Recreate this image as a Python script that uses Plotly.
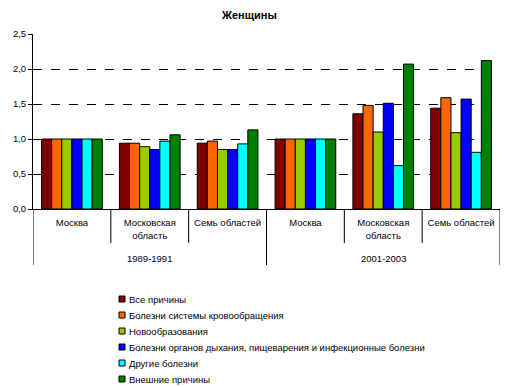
import plotly.graph_objects as go

periods = ["1989-1991", "2001-2003"]
regions = ["Москва", "Московская<br>область", "Семь областей",
           "Москва", "Московская<br>область", "Семь областей"]
positions = [0, 1, 2, 3, 4, 5]

series_names = [
    "Все причины",
    "Болезни системы кровообращения",
    "Новообразования",
    "Болезни органов дыхания, пищеварения и инфекционные болезни",
    "Другие болезни",
    "Внешние причины",
]
colors = ["#800000", "#FF6600", "#99CC00", "#0000FF", "#00FFFF", "#008000"]

all_causes = [1.0, 0.94, 0.94, 1.0, 1.36, 1.44]
circulatory = [1.0, 0.94, 0.97, 1.0, 1.48, 1.59]
neoplasms = [1.0, 0.89, 0.85, 1.0, 1.10, 1.09]
respiratory = [1.0, 0.85, 0.85, 1.0, 1.51, 1.57]
other = [1.0, 0.97, 0.93, 1.0, 0.62, 0.81]
external = [1.0, 1.06, 1.13, 1.0, 2.07, 2.12]

values = [all_causes, circulatory, neoplasms, respiratory, other, external]

fig = go.Figure()
for name, col, vals in zip(series_names, colors, values):
    fig.add_trace(go.Bar(
        x=positions, y=vals, name=name,
        marker=dict(color=col, line=dict(color="#000000", width=1)),
    ))

# plot area in pixels: x 33..500, y 34..209
X0, X1, Y0, Y1 = 33.0, 500.0, 34.0, 209.0
W, H = X1 - X0, Y1 - Y0


def px_x(px):
    return (px - X0) / W


def px_y(py):
    return (Y1 - py) / H


shapes = []
for b in [-0.5, 0.5, 1.5, 2.5, 3.5, 4.5, 5.5]:
    outer = b in (-0.5, 2.5, 5.5)
    shapes.append(dict(type="line", xref="x", yref="paper", x0=b, x1=b,
                       y0=0, y1=px_y(265) if outer else px_y(243),
                       line=dict(color="#000000", width=1)))

annotations = []
for i, p in enumerate(periods):
    annotations.append(dict(text=p, xref="x", yref="paper", x=1 + 3 * i,
                            y=px_y(258), yanchor="middle", showarrow=False,
                            font=dict(size=9.5)))

# legend (drawn as swatches + text, matching the reference's compact spacing)
for i, (name, col) in enumerate(zip(series_names, colors)):
    cy = 299 + 16 * i
    shapes.append(dict(type="rect", xref="paper", yref="paper",
                       x0=px_x(119), x1=px_x(125), y0=px_y(cy + 3), y1=px_y(cy - 3),
                       fillcolor=col, line=dict(color="#000000", width=1)))
    annotations.append(dict(text=name, xref="paper", yref="paper",
                            x=px_x(127), xanchor="left", y=px_y(cy), yanchor="middle",
                            showarrow=False, font=dict(size=9.5)))

fig.update_layout(
    width=509, height=387,
    margin=dict(l=33, r=9, t=34, b=178, autoexpand=False),
    paper_bgcolor="white", plot_bgcolor="white",
    barmode="group", bargap=0.22, bargroupgap=0,
    separators=", ",
    font=dict(family="Liberation Sans, Arial, sans-serif", size=10, color="#000000"),
    title=dict(text="<b>Женщины</b>", x=0.49, xanchor="center",
               y=1 - 15 / 387, yanchor="middle", font=dict(size=11)),
    showlegend=False,
    shapes=shapes, annotations=annotations,
)
fig.update_xaxes(
    range=[-0.5, 5.5], tickvals=positions, ticktext=regions,
    showline=True, linecolor="#000000", linewidth=1,
    ticks="", ticklabelstandoff=5, tickfont=dict(size=9.5),
    showgrid=False, zeroline=False, automargin=False,
)
fig.update_yaxes(
    range=[0, 2.5], dtick=0.5, tickformat=".1f",
    showline=True, linecolor="#000000", linewidth=1,
    ticks="outside", ticklen=4, tickcolor="#000000",
    showgrid=True, gridcolor="#000000", griddash="dash", gridwidth=1,
    tickfont=dict(size=9.5), zeroline=False, automargin=False,
)

fig.write_html("out.html", config={"displayModeBar": False},
               post_script="document.body.style.margin='0';document.body.style.overflow='hidden';")
